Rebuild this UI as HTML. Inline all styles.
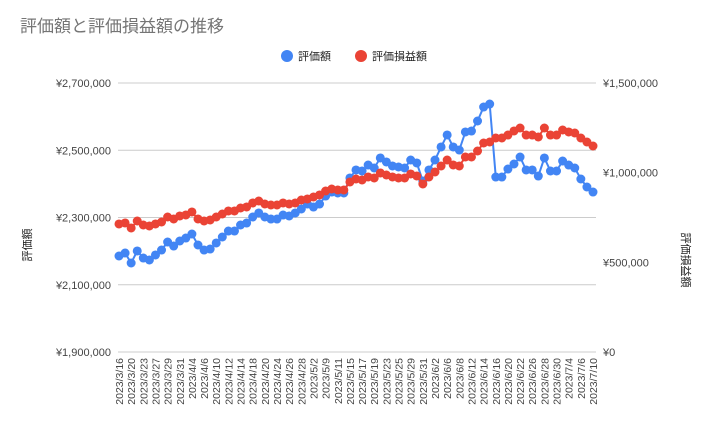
<!DOCTYPE html>
<html><head><meta charset="utf-8">
<style>
html,body{margin:0;padding:0;background:#fff;}
body{width:712px;height:432px;overflow:hidden;font-family:"Liberation Sans","Noto Sans CJK JP",sans-serif;}
svg text{font-family:"Liberation Sans","Noto Sans CJK JP",sans-serif;}
</style></head>
<body>
<svg id="chart" width="712" height="432" xmlns="http://www.w3.org/2000/svg">
<text x="20" y="32" font-size="17" fill="#757575">評価額と評価損益額の推移</text>
<g>
<circle cx="287" cy="56" r="6" fill="#4285f4"/>
<text x="298" y="60" font-size="11" fill="#222">評価額</text>
<circle cx="361" cy="56" r="6" fill="#ea4335"/>
<text x="372" y="60" font-size="11" fill="#222">評価損益額</text>
</g>
<text transform="translate(31,245) rotate(-90)" text-anchor="middle" font-size="11" fill="#222">評価額</text>
<text transform="translate(682,260) rotate(90)" text-anchor="middle" font-size="11" fill="#222">評価損益額</text>
<g id="grid"></g><g id="xlabels"></g><g id="series"></g>
</svg>
<script>
const dates=["2023/3/16","2023/3/17","2023/3/20","2023/3/22","2023/3/23","2023/3/24","2023/3/27","2023/3/28","2023/3/29","2023/3/30","2023/3/31","2023/4/3","2023/4/4","2023/4/5","2023/4/6","2023/4/7","2023/4/10","2023/4/11","2023/4/12","2023/4/13","2023/4/14","2023/4/17","2023/4/18","2023/4/19","2023/4/20","2023/4/21","2023/4/24","2023/4/25","2023/4/26","2023/4/27","2023/4/28","2023/5/1","2023/5/2","2023/5/8","2023/5/9","2023/5/10","2023/5/11","2023/5/12","2023/5/15","2023/5/16","2023/5/17","2023/5/18","2023/5/19","2023/5/22","2023/5/23","2023/5/24","2023/5/25","2023/5/26","2023/5/29","2023/5/30","2023/5/31","2023/6/1","2023/6/2","2023/6/5","2023/6/6","2023/6/7","2023/6/8","2023/6/9","2023/6/12","2023/6/13","2023/6/14","2023/6/15","2023/6/16","2023/6/19","2023/6/20","2023/6/21","2023/6/22","2023/6/23","2023/6/26","2023/6/27","2023/6/28","2023/6/29","2023/6/30","2023/7/3","2023/7/4","2023/7/5","2023/7/6","2023/7/7","2023/7/10"];
const valueSeries=[2185500,2194400,2164700,2200400,2179500,2173600,2188500,2203300,2227100,2215200,2230100,2239000,2250900,2218200,2203300,2206300,2224200,2242000,2259800,2259800,2277700,2283600,2301500,2313400,2301500,2295500,2295500,2307400,2304500,2313400,2325300,2340100,2331200,2340100,2363900,2375800,2372900,2372900,2417500,2441300,2438300,2456100,2447200,2477000,2465100,2453200,2450200,2447200,2471000,2462100,2408500,2441300,2471000,2509700,2545400,2509700,2500700,2554300,2557200,2587000,2628600,2637500,2420400,2420400,2444200,2459100,2479900,2441300,2441300,2423400,2477000,2438300,2438300,2468000,2456100,2447200,2414500,2390700,2375800];
const gainSeries=[713800,719400,691500,730500,708200,702600,713800,724900,752800,741700,758400,764000,780700,741700,730500,736100,752800,769500,786300,786300,803000,808600,830900,842000,825300,819700,819700,830900,825300,830900,847600,853200,864300,875500,897800,908900,903400,903400,948000,964700,959100,975900,970300,998200,987000,975900,970300,970300,992600,981400,936800,975900,1003700,1037200,1070600,1042800,1037200,1087400,1087400,1120800,1165400,1171000,1193300,1193300,1210000,1232400,1249100,1210000,1210000,1198900,1249100,1210000,1210000,1237900,1226800,1221200,1193300,1171000,1148700];
const leftTicks=[1900000,2100000,2300000,2500000,2700000];
const leftTickLabels=["¥1,900,000","¥2,100,000","¥2,300,000","¥2,500,000","¥2,700,000"];
const rightTicks=[0,500000,1000000,1500000];
const rightTickLabels=["¥0","¥500,000","¥1,000,000","¥1,500,000"];

const NS="http://www.w3.org/2000/svg";
const plotTop=83,plotBottom=352,plotX0=119,plotX1=593;
function yL(v){return plotBottom-(v-1900000)/800000*(plotBottom-plotTop);}
function yR(v){return plotBottom-v/1500000*(plotBottom-plotTop);}
function xS(i){return plotX0+i*(plotX1-plotX0)/(dates.length-1);}
function mk(tag,attrs,parent){const e=document.createElementNS(NS,tag);for(const k in attrs)e.setAttribute(k,attrs[k]);parent.appendChild(e);return e;}
const grid=document.getElementById('grid');
leftTicks.forEach((t,i)=>{
  const l=mk('line',{x1:118,x2:596,y1:yL(t),y2:yL(t),stroke:'#ccc','stroke-width':1},grid);
  
  
  const tx=mk('text',{x:111,y:yL(t)+4,'text-anchor':'end','font-size':11,fill:'#444'},grid);
  tx.textContent=leftTickLabels[i];
  
  
});
rightTicks.forEach((t,i)=>{
  const tx=mk('text',{x:603,y:yR(t)+4,'text-anchor':'start','font-size':11,fill:'#444'},grid);
  tx.textContent=rightTickLabels[i];
  
  
});
const xl=document.getElementById('xlabels');
dates.forEach((d,i)=>{
  if(i%2)return;
  const x=xS(i)+4;
  const tx=mk('text',{transform:'translate('+x+',358) rotate(-90)','text-anchor':'end','font-size':10.5,fill:'#444'},xl);
  tx.textContent=d;
  
  
});
const sg=document.getElementById('series');
function drawSeries(vals,yf,color,name){
  const g=mk('g',{},sg);
  
  
  const p=mk('polyline',{points:vals.map((v,i)=>xS(i)+','+yf(v)).join(' '),fill:'none',stroke:color,'stroke-width':2},g);
  
  
  vals.forEach((v,i)=>{
    const c=mk('circle',{cx:xS(i),cy:yf(v),r:4.5,fill:color},g);
    
    
  });
}
drawSeries(valueSeries,yL,'#4285f4','value-series');
drawSeries(gainSeries,yR,'#ea4335','gain-series');
</script>
</body></html>
